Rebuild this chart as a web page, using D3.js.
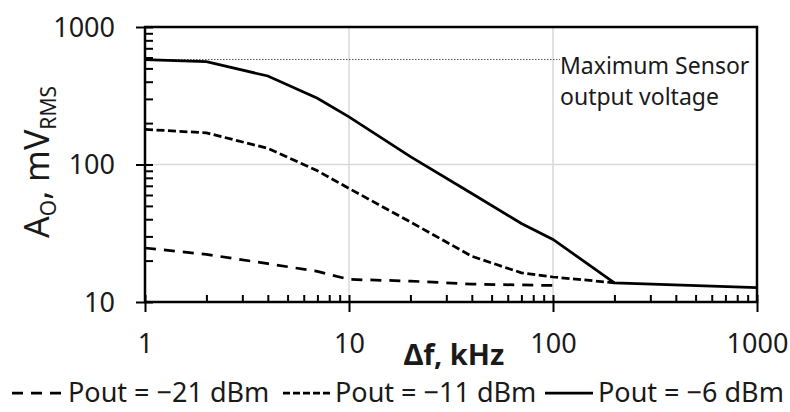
<!DOCTYPE html>
<html>
<head>
<meta charset="utf-8">
<script src="https://cdn.jsdelivr.net/npm/d3@7"></script>
<style>
  body { margin: 0; background: #fff; }
  text { font-family: "Noto Sans", "Open Sans", sans-serif; fill: #1a1a1a; }
</style>
</head>
<body>
<div id="chart"></div>
<script>
// Frequency offsets (kHz) at which the curves were measured
const freq = [1, 2, 4, 7, 10, 20, 40, 70, 100, 200, 1000];

// Output amplitude, mV RMS, one array per output power
const pout21 = [24.7, 22.2, 19.0, 16.7, 14.6, 14.2, 13.5, 13.3, 13.2];
const pout11 = [180, 170, 131, 90, 67, 38.2, 21.5, 16.3, 15.2, 13.8];
const pout6 = [578, 559, 440, 303, 222, 114, 61.5, 37.2, 28.5, 13.8, 12.7];

const maxSensor = 580; // maximum sensor output voltage, mV

const seriesNames = ["Pout = \u221221 dBm", "Pout = \u221211 dBm", "Pout = \u22126 dBm"];
const xTicks = [1, 10, 100, 1000];
const yTicks = [10, 100, 1000];
const xGrid = [10, 100];
const yGrid = [100];

// canvas and plot box
const W = 790, H = 412;
const plotLeft = 145, plotTop = 27, plotRight = 757, plotBottom = 302;

const svg = d3.select("#chart").append("svg")
    .attr("width", W)
    .attr("height", H);

const x = d3.scaleLog().domain([1, 1000]).range([plotLeft, plotRight]);
const y = d3.scaleLog().domain([10, 1000]).range([plotBottom, plotTop]);

// minor ticks: 2..9 inside every decade
function minors(lo, hi) {
    let out = [];
    for (let d = lo; d < hi; d *= 10) {
        for (let k = 2; k <= 9; k++) out.push(d * k);
    }
    return out;
}

// light grid
svg.selectAll(".vgrid").data(xGrid).enter().append("line")
    .attr("x1", d => x(d)).attr("x2", d => x(d))
    .attr("y1", plotTop).attr("y2", plotBottom)
    .attr("stroke", "#d9d9d9").attr("stroke-width", 1.5);
svg.selectAll(".hgrid").data(yGrid).enter().append("line")
    .attr("x1", plotLeft).attr("x2", plotRight)
    .attr("y1", d => y(d)).attr("y2", d => y(d))
    .attr("stroke", "#d9d9d9").attr("stroke-width", 1.5);

// max sensor output reference line
svg.append("line")
    .attr("x1", x(1)).attr("x2", 560)
    .attr("y1", y(maxSensor)).attr("y2", y(maxSensor))
    .attr("stroke", "#555").attr("stroke-width", 1)
    .attr("stroke-dasharray", "1.5,1.5");

svg.append("text").attr("x", 560).attr("y", 74)
    .style("font-size", "23px").text("Maximum Sensor");
svg.append("text").attr("x", 560).attr("y", 105)
    .style("font-size", "23px").text("output voltage");

// curves
const line = d3.line()
    .x(d => x(d[0]))
    .y(d => y(d[1]));

const series = [
    { values: pout21, dash: "11,8" },
    { values: pout11, dash: "8,3.5" },
    { values: pout6, dash: null }
];

series.forEach(s => {
    const pts = s.values.map((v, i) => [freq[i], v]);
    svg.append("path")
        .datum(pts)
        .attr("d", line)
        .attr("fill", "none")
        .attr("stroke", "#000")
        .attr("stroke-width", 2.75)
        .attr("stroke-dasharray", s.dash);
});

// plot frame
svg.append("rect")
    .attr("x", plotLeft).attr("y", plotTop)
    .attr("width", plotRight - plotLeft).attr("height", plotBottom - plotTop)
    .attr("fill", "none").attr("stroke", "#000").attr("stroke-width", 2.5);

// bottom axis: major ticks crossing the axis, minor ticks pointing up
const xAxis = svg.append("g")
    .attr("transform", `translate(0, ${plotBottom})`)
    .call(d3.axisBottom(x).tickValues(xTicks).tickSize(10).tickFormat(d3.format("d")));
xAxis.select(".domain").remove();
xAxis.selectAll("line").attr("stroke", "#000").attr("stroke-width", 2);
xAxis.selectAll("text")
    .attr("y", 51).attr("dy", null)
    .style("font-size", "27px").style("font-family", "Noto Sans").attr("fill", "#1a1a1a");

const xInner = svg.append("g")
    .attr("transform", `translate(0, ${plotBottom})`)
    .call(d3.axisTop(x).tickValues(minors(1, 1000).concat(xTicks)).tickSize(7).tickFormat(""));
xInner.select(".domain").remove();
xInner.selectAll("line").attr("stroke", "#000").attr("stroke-width", 2);

// left axis
const yAxis = svg.append("g")
    .attr("transform", `translate(${plotLeft}, 0)`)
    .call(d3.axisLeft(y).tickValues(yTicks).tickSize(9).tickPadding(21).tickFormat(d3.format("d")));
yAxis.select(".domain").remove();
yAxis.selectAll("line").attr("stroke", "#000").attr("stroke-width", 2);
yAxis.selectAll("text")
    .attr("dy", "0.35em")
    .style("font-size", "27px").style("font-family", "Noto Sans").attr("fill", "#1a1a1a");

const yInner = svg.append("g")
    .attr("transform", `translate(${plotLeft}, 0)`)
    .call(d3.axisRight(y).tickValues(minors(10, 1000).concat(yTicks)).tickSize(8).tickFormat(""));
yInner.select(".domain").remove();
yInner.selectAll("line").attr("stroke", "#000").attr("stroke-width", 2);

// axis titles
svg.append("text")
    .attr("x", 454).attr("y", 365)
    .attr("text-anchor", "middle")
    .style("font-size", "29px").style("font-weight", "bold")
    .text("\u0394f, kHz");

const yTitle = svg.append("text")
    .attr("transform", "translate(49, 162) rotate(-90)")
    .attr("text-anchor", "middle")
    .style("font-size", "34px");
yTitle.append("tspan").text("A");
yTitle.append("tspan").attr("dy", 7).style("font-size", "21px").text("O");
yTitle.append("tspan").attr("dy", -7).text(", mV");
yTitle.append("tspan").attr("dy", 7).style("font-size", "21px").text("RMS");

// legend
const legendItems = [
    { x0: 12, x1: 62, tx: 68, dash: "11,8" },
    { x0: 283, x1: 332, tx: 335, dash: "7,3" },
    { x0: 545, x1: 593, tx: 598, dash: null }
];
legendItems.forEach((d, i) => {
    svg.append("line")
        .attr("x1", d.x0).attr("x2", d.x1)
        .attr("y1", 393).attr("y2", 393)
        .attr("stroke", "#000").attr("stroke-width", 2.75)
        .attr("stroke-dasharray", d.dash);
    svg.append("text")
        .attr("x", d.tx).attr("y", 402)
        .style("font-size", "27px")
        .text(seriesNames[i]);
});
</script>
</body>
</html>
